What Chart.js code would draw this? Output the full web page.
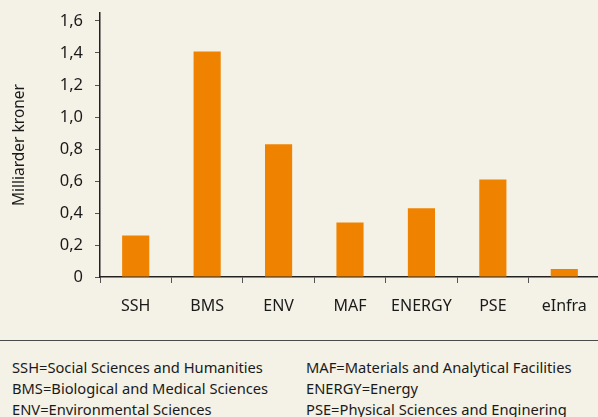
<!DOCTYPE html>
<html>
<head>
<meta charset="utf-8">
<script src="https://cdn.jsdelivr.net/npm/chart.js@4/dist/chart.umd.min.js"></script>
<style>
  html, body { margin: 0; padding: 0; background: #f4f1e6; overflow: hidden; width: 598px; height: 417px; }
  #wrap { position: absolute; left: 0; top: 0; width: 602px; height: 322px; }
  #sep { position: absolute; left: 0; top: 340px; width: 598px; height: 0; border-top: 1.5px solid #4a4a4a; }
  .leg { position: absolute; top: 357px; font-family: "Noto Sans", sans-serif; font-size: 14.7px; line-height: 21px; color: #1a1a1a; white-space: nowrap; }
</style>
</head>
<body>
<div id="wrap"><canvas id="chart" width="602" height="322"></canvas></div>
<div id="sep"></div>
<div class="leg" id="legL" style="left:12px"></div>
<div class="leg" id="legR" style="left:306px"></div>
<script>
// Investment per research area (billion DKK)
const categories = ['SSH', 'BMS', 'ENV', 'MAF', 'ENERGY', 'PSE', 'eInfra'];
const values = [0.26, 1.41, 0.83, 0.34, 0.43, 0.61, 0.05];
const yTickValues = [0, 0.2, 0.4, 0.6, 0.8, 1.0, 1.2, 1.4, 1.6];
const yTitle = 'Milliarder kroner';
const legendLeft = [
  'SSH=Social Sciences and Humanities',
  'BMS=Biological and Medical Sciences',
  'ENV=Environmental Sciences'
];
const legendRight = [
  'MAF=Materials and Analytical Facilities',
  'ENERGY=Energy',
  'PSE=Physical Sciences and Enginering'
];

document.getElementById('legL').innerHTML = legendLeft.join('<br>');
document.getElementById('legR').innerHTML = legendRight.join('<br>');

const font = "'Noto Sans', sans-serif";
const ink = '#1a1a1a';

new Chart(document.getElementById('chart'), {
  type: 'bar',
  data: {
    labels: categories,
    datasets: [{
      data: values,
      backgroundColor: '#ef8300',
      borderWidth: 0,
      categoryPercentage: 1,
      barPercentage: 0.38
    }]
  },
  options: {
    responsive: false,
    animation: false,
    layout: { padding: { top: 13, left: 6, right: 2, bottom: 0 } },
    plugins: { legend: { display: false }, tooltip: { enabled: false } },
    scales: {
      x: {
        grid: { display: true, drawOnChartArea: false, drawTicks: true, tickLength: 6, color: '#555', offset: true },
        border: { display: true, color: '#222', width: 1.5 },
        ticks: { color: ink, font: { family: font, size: 16 }, padding: 14, maxRotation: 0 },
        afterFit(scale) { scale.height = 45; }
      },
      y: {
        min: 0,
        max: 1.65,
        grid: { display: true, drawOnChartArea: false, drawTicks: true, tickLength: 5, color: '#555' },
        border: { display: true, color: '#222', width: 1.5 },
        ticks: {
          color: ink,
          font: { family: font, size: 16.5 },
          padding: 12,
          callback: v => v === 0 ? '0' : v.toFixed(1).replace('.', ',')
        },
        afterBuildTicks(scale) { scale.ticks = yTickValues.map(v => ({ value: v })); },
        title: { display: true, text: yTitle, color: ink, font: { family: font, size: 15.5 }, padding: { top: 4, bottom: 4 } },
        afterFit(scale) {
          scale.width = 94;
          // let the layout padding alone decide the top of the plot
          scale.paddingTop = 0;
          scale.paddingBottom = 0;
        }
      }
    }
  }
});
</script>
</body>
</html>
